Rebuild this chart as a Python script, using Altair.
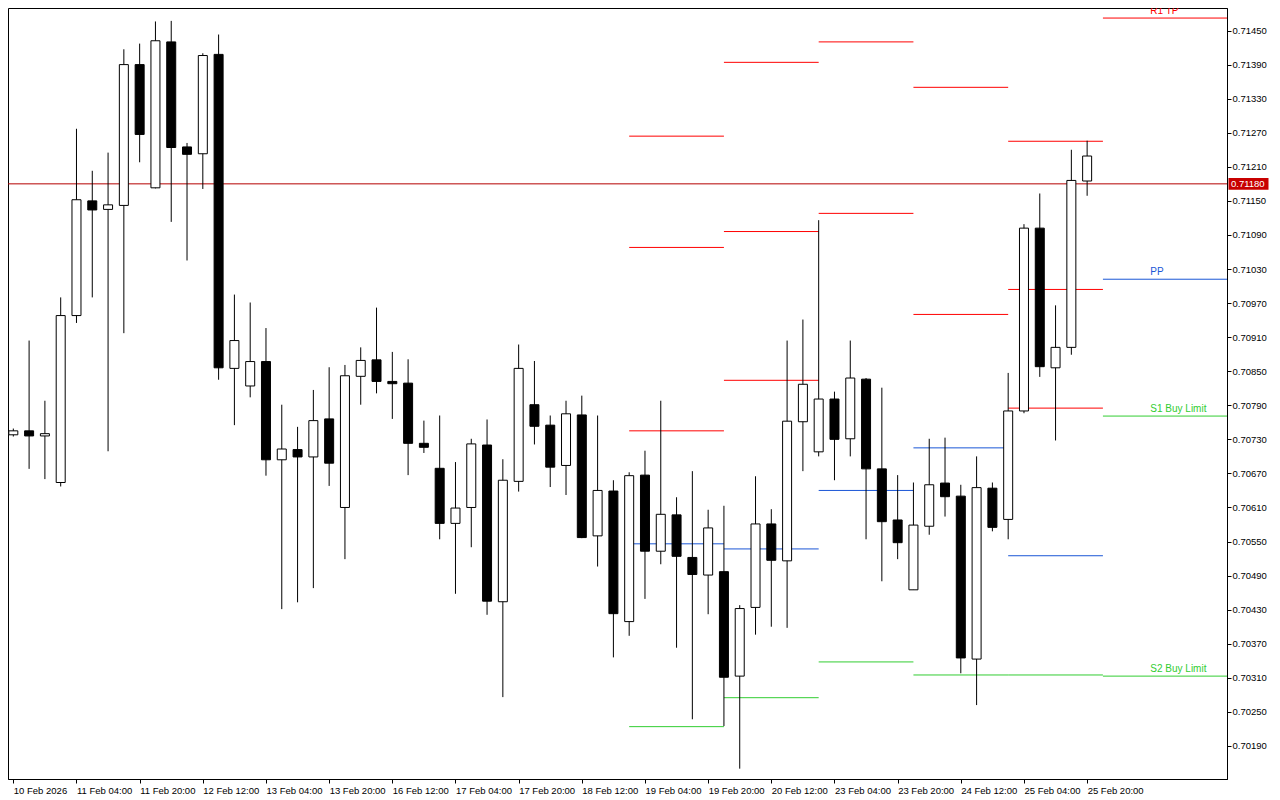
import altair as alt
import pandas as pd

# ---------------- data ----------------
x_labels = ["10 Feb 2026", "11 Feb 04:00", "11 Feb 20:00", "12 Feb 12:00", "13 Feb 04:00",
            "13 Feb 20:00", "16 Feb 12:00", "17 Feb 04:00", "17 Feb 20:00", "18 Feb 12:00",
            "19 Feb 04:00", "19 Feb 20:00", "20 Feb 12:00", "23 Feb 04:00", "23 Feb 20:00",
            "24 Feb 12:00", "25 Feb 04:00", "25 Feb 20:00"]
label_bars = [0, 4, 8, 12, 16, 20, 24, 28, 32, 36, 40, 44, 48, 52, 56, 60, 64, 68]

y_ticks = [0.71450, 0.71390, 0.71330, 0.71270, 0.71210, 0.71150, 0.71090, 0.71030,
           0.70970, 0.70910, 0.70850, 0.70790, 0.70730, 0.70670, 0.70610, 0.70550,
           0.70490, 0.70430, 0.70370, 0.70310, 0.70250, 0.70190]

opens = [0.70738, 0.70745, 0.70736, 0.70654, 0.70948, 0.71150, 0.71135, 0.71142, 0.71390, 0.71173,
         0.71430, 0.71245, 0.71233, 0.71408, 0.70855, 0.70824, 0.70867, 0.70694, 0.70712, 0.70699,
         0.70766, 0.70610, 0.70841, 0.70870, 0.70832, 0.70829, 0.70723, 0.70679, 0.70582, 0.70610,
         0.70720, 0.70444, 0.70656, 0.70791, 0.70755, 0.70684, 0.70773, 0.70560, 0.70639, 0.70409,
         0.70667, 0.70533, 0.70597, 0.70522, 0.70491, 0.70497, 0.70313, 0.70434, 0.70581, 0.70516,
         0.70761, 0.70708, 0.70801, 0.70731, 0.70836, 0.70678, 0.70588, 0.70465, 0.70577, 0.70653,
         0.70630, 0.70343, 0.70644, 0.70589, 0.70780, 0.71102, 0.70856, 0.70892, 0.71185]
highs = [0.70749, 0.70904, 0.70798, 0.70980, 0.71277, 0.71203, 0.71235, 0.71417, 0.71427, 0.71466,
         0.71467, 0.71252, 0.71410, 0.71443, 0.70985, 0.70971, 0.70926, 0.70791, 0.70752, 0.70817,
         0.70857, 0.70861, 0.70892, 0.70962, 0.70884, 0.70871, 0.70763, 0.70772, 0.70690, 0.70731,
         0.70765, 0.70695, 0.70897, 0.70868, 0.70772, 0.70798, 0.70807, 0.70772, 0.70658, 0.70672,
         0.70710, 0.70798, 0.70628, 0.70674, 0.70606, 0.70613, 0.70438, 0.70665, 0.70607, 0.70904,
         0.70941, 0.71116, 0.70814, 0.70904, 0.70838, 0.70821, 0.70667, 0.70654, 0.70731, 0.70733,
         0.70650, 0.70700, 0.70654, 0.70847, 0.71109, 0.71163, 0.70966, 0.71240, 0.71256]
lows = [0.70735, 0.70678, 0.70660, 0.70647, 0.70935, 0.70980, 0.70709, 0.70917, 0.71218, 0.71172,
        0.71113, 0.71045, 0.71171, 0.70835, 0.70755, 0.70804, 0.70666, 0.70431, 0.70443, 0.70468,
        0.70648, 0.70519, 0.70791, 0.70811, 0.70766, 0.70667, 0.70706, 0.70554, 0.70458, 0.70540,
        0.70421, 0.70276, 0.70638, 0.70721, 0.70646, 0.70632, 0.70556, 0.70506, 0.70346, 0.70384,
        0.70449, 0.70510, 0.70363, 0.70237, 0.70422, 0.70225, 0.70150, 0.70386, 0.70400, 0.70398,
        0.70674, 0.70700, 0.70658, 0.70700, 0.70554, 0.70480, 0.70519, 0.70465, 0.70562, 0.70594,
        0.70318, 0.70262, 0.70568, 0.70554, 0.70776, 0.70840, 0.70728, 0.70879, 0.71159]
closes = [0.70745, 0.70736, 0.70740, 0.70948, 0.71152, 0.71134, 0.71143, 0.71390, 0.71267, 0.71432,
          0.71244, 0.71232, 0.71406, 0.70856, 0.70904, 0.70867, 0.70694, 0.70713, 0.70699, 0.70763,
          0.70688, 0.70842, 0.70869, 0.70832, 0.70828, 0.70723, 0.70716, 0.70582, 0.70609, 0.70722,
          0.70445, 0.70658, 0.70855, 0.70753, 0.70681, 0.70775, 0.70557, 0.70640, 0.70423, 0.70666,
          0.70533, 0.70598, 0.70524, 0.70492, 0.70574, 0.70311, 0.70432, 0.70581, 0.70517, 0.70762,
          0.70827, 0.70801, 0.70730, 0.70838, 0.70678, 0.70585, 0.70548, 0.70579, 0.70650, 0.70629,
          0.70345, 0.70645, 0.70575, 0.70780, 0.71102, 0.70858, 0.70892, 0.71186, 0.71229]

# daily pivot segments (start bar, end bar) and levels
pivot_from = [39, 45, 51, 57, 63]
pivot_to = [45, 51, 57, 63, 69]
r3 = [0.71264, 0.71394, None, None, 0.71255]
r2 = [0.71068, 0.71096, 0.71430, 0.71350, 0.70994]
r1 = [0.70745, 0.70834, 0.71128, 0.70950, 0.70785]
pp = [0.70546, 0.70537, 0.70640, 0.70715, 0.70525]
s1 = [0.70224, 0.70275, 0.70338, 0.70315, 0.70315]

# next day's levels (open to the right edge) with labels
next_from = 69
next_label_at = 72
next_names = ["R1 TP", "PP", "S1 Buy Limit", "S2 Buy Limit"]
next_levels = [0.71472, 0.71012, 0.70771, 0.70313]
next_kinds = ["R", "P", "S", "S"]

current_price = 0.71180

# ---------------- frames ----------------
candles = pd.DataFrame({"i": list(range(len(opens))), "open": opens, "high": highs,
                        "low": lows, "close": closes})

rows = []
for k, (a, b) in enumerate(zip(pivot_from, pivot_to)):
    for kind, lv in (("R", r3[k]), ("R", r2[k]), ("R", r1[k]), ("P", pp[k]), ("S", s1[k])):
        if lv is not None:
            rows.append({"from": a, "to": b, "level": lv, "kind": kind})
pivots = pd.DataFrame(rows)

nxt = pd.DataFrame({"from": [next_from] * len(next_names), "at": [next_label_at] * len(next_names),
                    "level": next_levels, "kind": next_kinds, "name": next_names})
price_df = pd.DataFrame({"price": [current_price], "txt": ["%.5f" % current_price]})

# ---------------- chart ----------------
W, H = 1219, 771
FONT = "Liberation Sans"
xscale = alt.Scale(domain=[-0.02, 76.54], nice=False, zero=False)
yscale = alt.Scale(domain=[0.701318, 0.714897], nice=False, zero=False)

label_expr = "[" + ",".join("'%s'" % s for s in x_labels) + "][round(datum.value/4)]"
xaxis = alt.Axis(values=label_bars, labelExpr=label_expr, labelAlign="left", labelBaseline="top",
                 labelFlush=False, labelOverlap=False, labelPadding=2, labelFont=FONT,
                 labelFontSize=9.5, labelColor="black", tickColor="black", tickSize=4,
                 domainColor="black", grid=False, title=None)
yaxis = alt.Axis(orient="right", values=y_ticks, format=".5f", labelOverlap=False,
                 labelPadding=1, labelFont=FONT, labelFontSize=9.5, labelColor="black",
                 labelBaseline="middle", tickColor="black", tickSize=4, domainColor="black",
                 grid=False, title=None)

kind_color = alt.Color("kind:N", scale=alt.Scale(domain=["R", "P", "S"],
                                                 range=["#FF0000", "#1A56D6", "#32CD32"]),
                       legend=None)

base = alt.Chart(candles)
wicks = base.mark_rule(color="black", strokeWidth=1, clip=True).encode(
    x=alt.X("i:Q", scale=xscale, axis=xaxis),
    y=alt.Y("low:Q", scale=yscale, axis=yaxis),
    y2="high:Q")
bodies = base.mark_bar(size=9, stroke="black", strokeWidth=1, clip=True).encode(
    x=alt.X("i:Q", scale=xscale, axis=xaxis),
    y=alt.Y("open:Q", scale=yscale, axis=yaxis),
    y2="close:Q",
    fill=alt.condition("datum.close >= datum.open", alt.value("white"), alt.value("black")))

piv = alt.Chart(pivots).mark_rule(strokeWidth=1, clip=True).encode(
    x=alt.X("from:Q", scale=xscale, axis=xaxis), x2="to:Q",
    y=alt.Y("level:Q", scale=yscale, axis=yaxis), color=kind_color)

nxt_lines = alt.Chart(nxt).mark_rule(strokeWidth=1, clip=True).encode(
    x=alt.X("from:Q", scale=xscale, axis=xaxis), x2=alt.value(W),
    y=alt.Y("level:Q", scale=yscale, axis=yaxis), color=kind_color)
nxt_text = alt.Chart(nxt).mark_text(align="left", baseline="bottom", dy=-2, font=FONT,
                                    fontSize=10, clip=True).encode(
    x=alt.X("at:Q", scale=xscale, axis=xaxis),
    y=alt.Y("level:Q", scale=yscale, axis=yaxis), text="name:N", color=kind_color)

pline = alt.Chart(price_df).mark_rule(color="#B40000", strokeWidth=1).encode(
    x=alt.value(0), x2=alt.value(W), y=alt.Y("price:Q", scale=yscale, axis=yaxis))
pbox = alt.Chart(price_df).mark_point(shape="M-1,-0.29H1V0.29H-1Z", size=1600, filled=True,
                                      color="#C80000", opacity=1).encode(
    x=alt.value(W + 21.5), y=alt.Y("price:Q", scale=yscale, axis=yaxis))
ptext = alt.Chart(price_df).mark_text(align="left", baseline="middle", color="white",
                                      font=FONT, fontSize=9.5).encode(
    x=alt.value(W + 4), y=alt.Y("price:Q", scale=yscale, axis=yaxis), text="txt:N")

chart = alt.layer(piv, pline, wicks, bodies, nxt_lines, nxt_text, pbox, ptext).properties(
    width=W, height=H, background="white",
    padding={"left": 0, "top": 0, "right": 44, "bottom": 20},
    autosize=alt.AutoSizeParams(type="none")
).configure_view(stroke="black", strokeWidth=1)

chart.save("out.html", embed_options={"renderer": "svg", "actions": False})
